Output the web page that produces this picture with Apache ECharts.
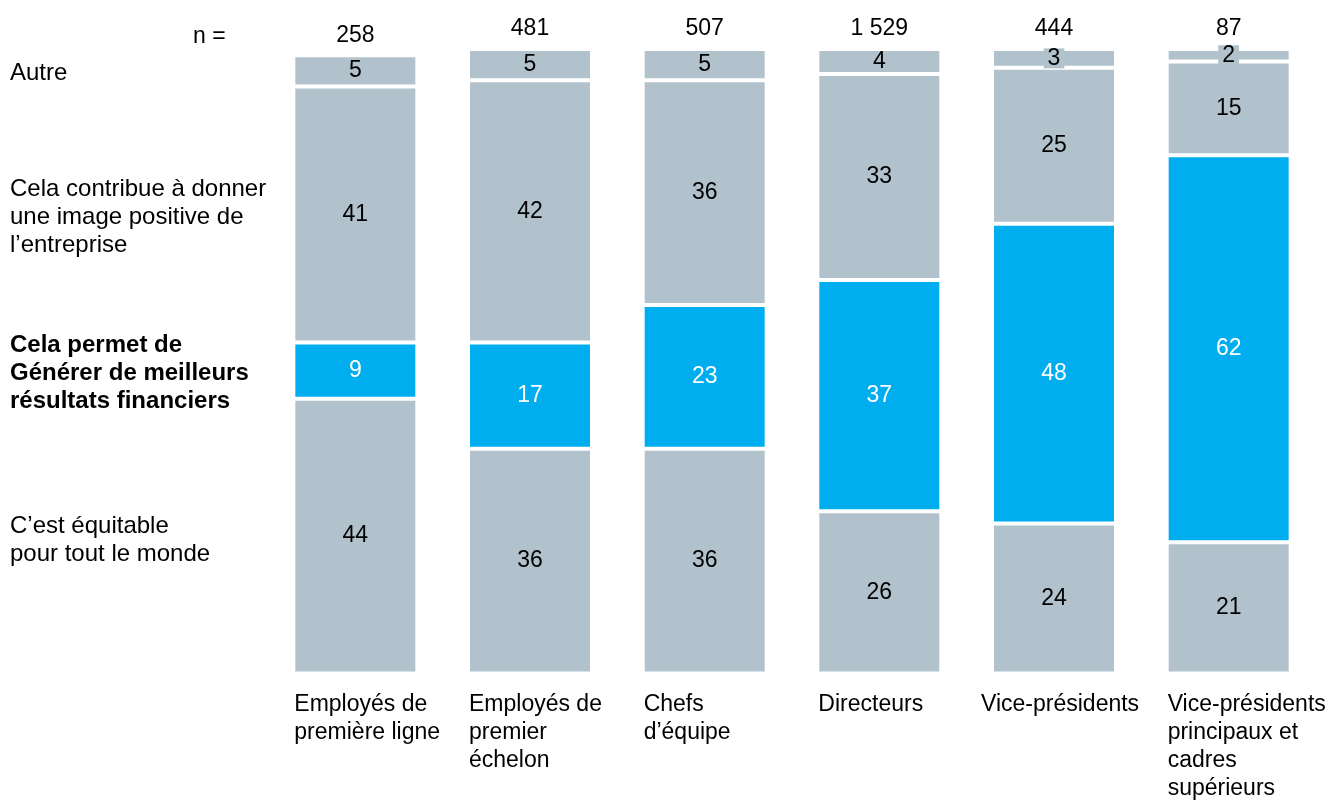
<!DOCTYPE html>
<html>
<head>
<meta charset="utf-8">
<script src="https://cdn.jsdelivr.net/npm/echarts@6/dist/echarts.min.js"></script>
<style>
  html, body { margin: 0; padding: 0; background: #fff; }
  #chart { width: 1334px; height: 800px; }
</style>
</head>
<body>
<div id="chart"></div>
<script>
// Groupes de répondants (axe des catégories)
const categories = [
  'Employés de\npremière ligne',
  'Employés de\npremier\néchelon',
  'Chefs\nd’équipe',
  'Directeurs',
  'Vice-présidents',
  'Vice-présidents\nprincipaux et\ncadres\nsupérieurs'
];
// Taille d'échantillon par groupe
const nValues = ['258', '481', '507', '1 529', '444', '87'];

// Réponses, en % (empilées de bas en haut)
const equitable   = [44, 36, 36, 26, 24, 21];
const resultats   = [9, 17, 23, 37, 48, 62];
const image       = [41, 42, 36, 33, 25, 15];
const autre       = [5, 5, 5, 4, 3, 2];

// Libellés des réponses affichés à gauche
const answerLabels = [
  { text: 'Autre', top: 59, bold: false },
  { text: 'Cela contribue à donner\nune image positive de\nl’entreprise', top: 175, bold: false },
  { text: 'Cela permet de\nGénérer de meilleurs\nrésultats financiers', top: 331, bold: true },
  { text: 'C’est équitable\npour tout le monde', top: 512, bold: false }
];

const GREY = '#b1c2cc';
const BLUE = '#00aeef';
const FONT = '"Liberation Sans", Arial, sans-serif';
const FS = 23;

const chart = echarts.init(document.getElementById('chart'), null, { renderer: 'canvas' });

function segment(name, data, color, labelColor, extraLabel) {
  return {
    name: name,
    type: 'bar',
    stack: 'total',
    data: data,
    barWidth: 124,
    itemStyle: { color: color, borderColor: '#ffffff', borderWidth: 2 },
    label: Object.assign({
      show: true,
      position: 'inside',
      color: labelColor,
      fontFamily: FONT,
      fontSize: FS,
      lineHeight: 24
    }, extraLabel || {}),
    emphasis: { disabled: true },
    silent: true
  };
}

const option = {
  backgroundColor: '#ffffff',
  animation: false,
  grid: { left: 268, right: 18, top: 49, bottom: 122.5, containLabel: false },
  xAxis: {
    type: 'category',
    data: categories,
    axisLine: { show: false },
    axisTick: { show: false },
    axisLabel: {
      interval: 0,
      margin: 17,
      formatter: function (value, idx) {
        const key = (idx === 4) ? 'w' : 'a';
        return value.split('\n').map(function (l) { return '{' + key + '|' + l + '}'; }).join('\n');
      },
      rich: {
        a: { width: 122, align: 'left', fontFamily: FONT, fontSize: FS, lineHeight: 28, color: '#000' },
        w: { width: 146, align: 'left', fontFamily: FONT, fontSize: FS, lineHeight: 28, color: '#000' }
      }
    }
  },
  yAxis: {
    type: 'value',
    min: 0,
    max: 100,
    show: false,
    splitLine: { show: false }
  },
  series: [
    segment('C’est équitable pour tout le monde', equitable, GREY, '#000'),
    segment('Cela permet de générer de meilleurs résultats financiers', resultats, BLUE, '#ffffff'),
    segment('Cela contribue à donner une image positive de l’entreprise', image, GREY, '#000'),
    segment('Autre', autre, GREY, '#000', { backgroundColor: GREY, padding: [0, 4, 0, 4], lineHeight: 20 }),
    {
      name: 'n',
      type: 'bar',
      stack: 'total',
      data: nValues.map(function () { return 0; }),
      barWidth: 124,
      itemStyle: { color: 'transparent' },
      label: {
        show: true,
        position: 'top',
        distance: 8,
        color: '#000',
        fontFamily: FONT,
        fontSize: FS,
        lineHeight: 24,
        formatter: function (p) { return nValues[p.dataIndex]; }
      },
      silent: true
    }
  ],
  graphic: [
    {
      type: 'text',
      left: 193,
      top: 25,
      style: { text: 'n =', fontFamily: FONT, fontSize: FS, fill: '#000' }
    }
  ].concat(answerLabels.map(function (a) {
    return {
      type: 'text',
      left: 10,
      top: a.top,
      style: {
        text: a.text,
        fill: '#000',
        fontFamily: FONT,
        fontSize: 24,
        fontWeight: a.bold ? 'bold' : 'normal',
        lineHeight: 28
      }
    };
  }))
};

chart.setOption(option);
</script>
</body>
</html>
